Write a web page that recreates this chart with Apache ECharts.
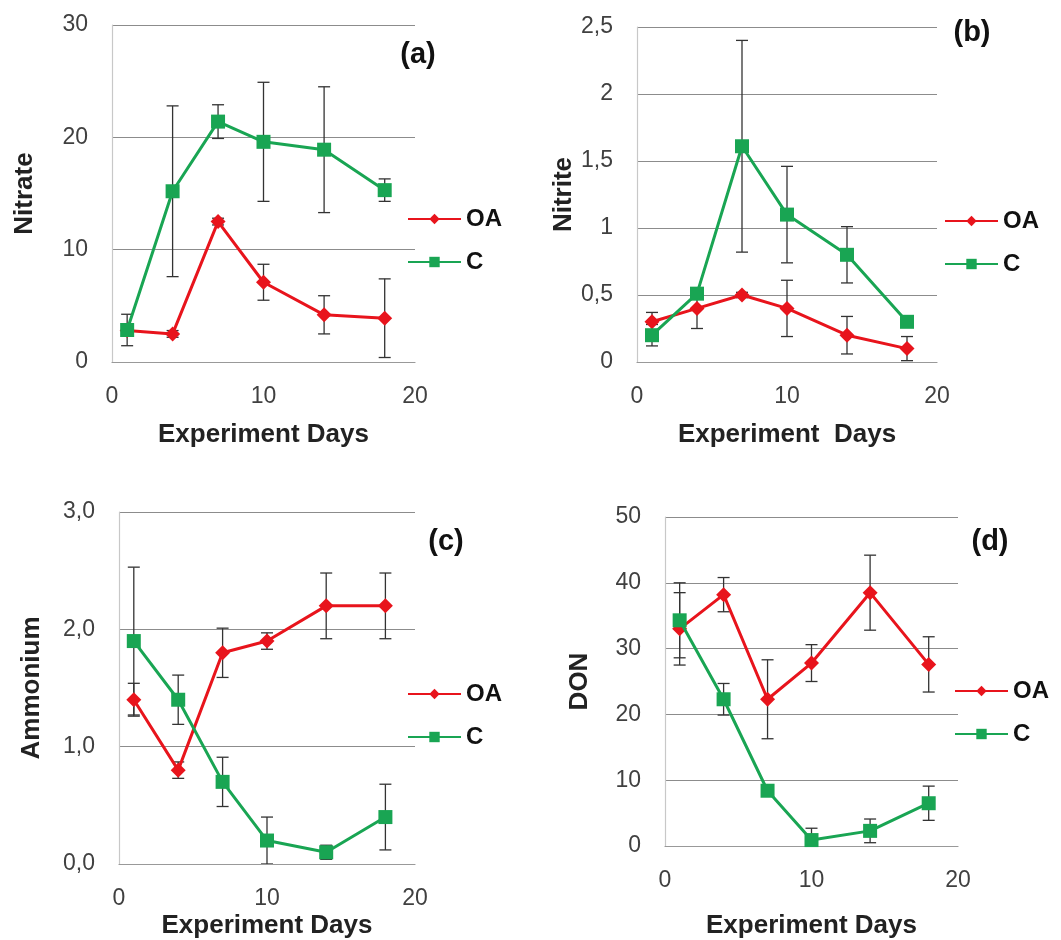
<!DOCTYPE html>
<html>
<head>
<meta charset="UTF-8">
<title>Nitrogen</title>
<style>
  html, body { margin: 0; padding: 0; background: #fff; }
  #main { width: 1061px; height: 940px; }
</style>
</head>
<body>
<div id="main"></div>
<script src="https://cdn.jsdelivr.net/npm/echarts@6/dist/echarts.min.js"></script>
<script>
// experiment days
var days = [1, 4, 7, 10, 14, 18];

// (a) nitrate
var nitrateOA = [2.8, 2.5, 12.5, 7.1, 4.2, 3.9];
var nitrateOAErr = [0.4, 0.3, 0.3, 1.6, 1.7, 3.5];
var nitrateC = [2.85, 15.2, 21.4, 19.6, 18.9, 15.3];
var nitrateCErr = [1.4, 7.6, 1.5, 5.3, 5.6, 1.0];

// (b) nitrite
var nitriteOA = [0.3, 0.4, 0.5, 0.4, 0.2, 0.1];
var nitriteOAErr = [0.07, 0.15, 0.02, 0.21, 0.14, 0.09];
var nitriteC = [0.2, 0.51, 1.61, 1.1, 0.8, 0.3];
var nitriteCErr = [0.08, 0.04, 0.79, 0.36, 0.21, 0.02];

// (c) ammonium
var ammoniumOA = [1.4, 0.8, 1.8, 1.9, 2.2, 2.2];
var ammoniumOAErr = [0.14, 0.07, 0.21, 0.07, 0.28, 0.28];
var ammoniumC = [1.9, 1.4, 0.7, 0.2, 0.1, 0.4];
var ammoniumCErr = [0.63, 0.21, 0.21, 0.2, 0.06, 0.28];

// (d) DON
var donOA = [33, 38.2, 22.3, 27.8, 38.5, 27.6];
var donOAErr = [5.5, 2.6, 6.0, 2.8, 5.7, 4.2];
var donC = [34.3, 22.3, 8.4, 0.9, 2.3, 6.5];
var donCErr = [5.7, 2.4, 0.5, 1.8, 1.8, 2.6];

var RED = '#e8141c';
var GREEN = '#19a553';
var FONT = 'Liberation Sans';

function pts(v) {
  return days.map(function (d, i) { return [d, v[i]]; });
}
function errPts(v, e) {
  return days.map(function (d, i) { return [d, v[i] - e[i], v[i] + e[i]]; });
}
function errItem(params, api) {
  var x = api.value(0);
  var p1 = api.coord([x, api.value(2)]);
  var p2 = api.coord([x, api.value(1)]);
  var w = 6;
  var st = { stroke: '#333', lineWidth: 1.3 };
  return {
    type: 'group',
    children: [
      { type: 'line', shape: { x1: p1[0], y1: p1[1], x2: p2[0], y2: p2[1] }, style: st },
      { type: 'line', shape: { x1: p1[0] - w, y1: p1[1], x2: p1[0] + w, y2: p1[1] }, style: st },
      { type: 'line', shape: { x1: p2[0] - w, y1: p2[1], x2: p2[0] + w, y2: p2[1] }, style: st }
    ]
  };
}

var panels = [
  { grid: { left: 112, right: 646, top: 25, bottom: 578 }, yMax: 30, yInt: 10, yName: 'Nitrate', xName: 'Experiment Days',
    yGap: 74, xGap: 60, dec: 0, oa: nitrateOA, oaE: nitrateOAErr, c: nitrateC, cE: nitrateCErr,
    tag: '(a)', tagX: 418, tagY: 55, legX: 407, legY: 207 },
  { grid: { left: 637, right: 124, top: 27, bottom: 578 }, yMax: 2.5, yInt: 0.5, yName: 'Nitrite', xName: 'Experiment  Days',
    yGap: 52, xGap: 60, dec: -1, oa: nitriteOA, oaE: nitriteOAErr, c: nitriteC, cE: nitriteCErr,
    tag: '(b)', tagX: 972, tagY: 33, legX: 944, legY: 209 },
  { grid: { left: 119, right: 646, top: 512, bottom: 75 }, yMax: 3, yInt: 1, yName: 'Ammonium', xName: 'Experiment Days',
    yGap: 74, xGap: 49, dec: 1, oa: ammoniumOA, oaE: ammoniumOAErr, c: ammoniumC, cE: ammoniumCErr,
    tag: '(c)', tagX: 446, tagY: 542, legX: 407, legY: 682 },
  { grid: { left: 665, right: 103, top: 517, bottom: 93 }, yMax: 50, yInt: 10, yName: 'DON', xName: 'Experiment Days',
    yGap: 72, xGap: 67, dec: 0, oa: donOA, oaE: donOAErr, c: donC, cE: donCErr,
    tag: '(d)', tagX: 990, tagY: 542, legX: 954, legY: 679 }
];

var grids = [], xAxes = [], yAxes = [], series = [], legends = [], graphics = [];

panels.forEach(function (p, k) {
  grids.push(p.grid);
  xAxes.push({
    type: 'value', gridIndex: k, min: 0, max: 20, interval: 10,
    name: p.xName, nameLocation: 'middle', nameGap: p.xGap,
    nameTextStyle: { fontFamily: FONT, fontWeight: 'bold', fontSize: 26, color: '#222' },
    axisLine: { show: true, lineStyle: { color: '#999', width: 1.2 } },
    axisTick: { show: false },
    splitLine: { show: false },
    axisLabel: { margin: 23, fontFamily: FONT, fontSize: 23, color: '#404040' }
  });
  yAxes.push({
    type: 'value', gridIndex: k, min: 0, max: p.yMax, interval: p.yInt,
    name: p.yName, nameLocation: 'middle', nameGap: p.yGap, nameRotate: 90,
    nameTextStyle: { fontFamily: FONT, fontWeight: 'bold', fontSize: 26, color: '#222' },
    axisLine: { show: true, lineStyle: { color: '#c8c8c8', width: 1.2 } },
    axisTick: { show: false },
    splitLine: { show: true, lineStyle: { color: '#8c8c8c', width: 1 } },
    axisLabel: {
      margin: 24, fontFamily: FONT, fontSize: 23, color: '#404040',
      formatter: (function (dec) {
        return function (v) {
          var s = dec > 0 ? v.toFixed(dec) : String(Math.round(v * 10) / 10);
          return s.replace('.', ',');
        };
      })(p.dec)
    }
  });
  series.push({
    name: 'OA', type: 'line', xAxisIndex: k, yAxisIndex: k, data: pts(p.oa), z: 3,
    symbol: 'diamond', symbolSize: 15, lineStyle: { color: RED, width: 3 },
    itemStyle: { color: RED }, emphasis: { disabled: true }
  });
  series.push({
    name: 'C', type: 'line', xAxisIndex: k, yAxisIndex: k, data: pts(p.c), z: 4,
    symbol: 'rect', symbolSize: 14, lineStyle: { color: GREEN, width: 3 },
    itemStyle: { color: GREEN }, emphasis: { disabled: true }
  });
  series.push({
    type: 'custom', xAxisIndex: k, yAxisIndex: k, data: errPts(p.oa, p.oaE), z: 2,
    renderItem: errItem, encode: { x: 0, y: [1, 2] }, clip: true, silent: true
  });
  series.push({
    type: 'custom', xAxisIndex: k, yAxisIndex: k, data: errPts(p.c, p.cE), z: 2,
    renderItem: errItem, encode: { x: 0, y: [1, 2] }, clip: true, silent: true
  });
  legends.push({
    data: ['OA', 'C'], orient: 'vertical', left: p.legX, top: p.legY, padding: 0,
    itemWidth: 53, itemHeight: 13, itemGap: 19, selectedMode: false,
    textStyle: { fontFamily: FONT, fontWeight: 'bold', fontSize: 24, color: '#111' }
  });
  graphics.push({
    type: 'text', x: p.tagX, y: p.tagY,
    style: { text: p.tag, fontFamily: FONT, fontWeight: 'bold', fontSize: 29, fill: '#111',
      textAlign: 'center', textVerticalAlign: 'middle' }
  });
});

var chart = echarts.init(document.getElementById('main'));
chart.setOption({
  backgroundColor: '#fff',
  animation: false,
  grid: grids,
  xAxis: xAxes,
  yAxis: yAxes,
  legend: legends,
  graphic: graphics,
  series: series
});
</script>
</body>
</html>
